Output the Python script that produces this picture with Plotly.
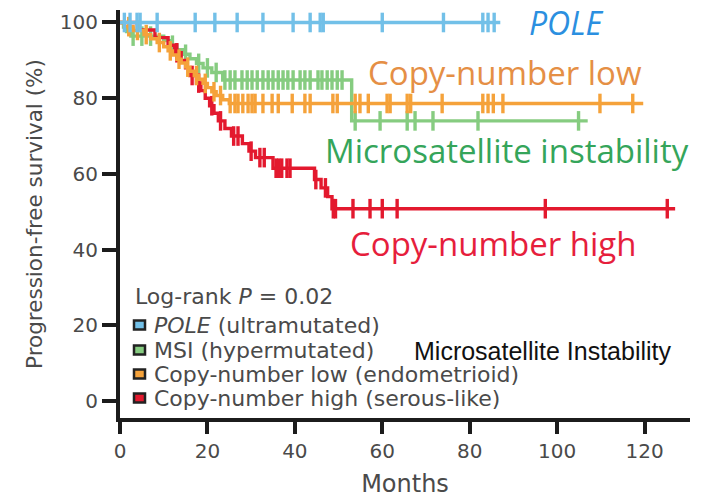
import numpy as np
import plotly.graph_objects as go

# ---------------- data ----------------
# Kaplan-Meier step points (months, survival %) and censor times per group
pole_t = [0]
pole_s = [100]
pole_end = 87
pole_cens = [1, 2.3, 3.9, 4.6, 8.5, 17.2, 21.7, 26.8, 32.7, 39.6, 43.5, 45.8, 46.5,
             60, 74, 83, 84.2, 85.6]

msi_t = [0, 0.8, 1.5, 2.5, 10, 11.5, 13, 14.5, 16, 17.5, 19, 21, 23.5, 53]
msi_s = [100, 98.8, 97.6, 96.4, 95.2, 94.0, 92.8, 91.6, 90.4, 89.2, 88.0, 86.8, 84.8, 74.0]
msi_end = 107
msi_cens = [3, 5, 7, 12, 15, 18, 20, 22, 24, 25.2, 26.3, 27.9, 29.1, 30.2, 31.4, 32.7,
            33.9, 35, 36.2, 37.3, 38.4, 39.6, 41.2, 42.3, 43.5, 45.3, 46.2, 47.4, 48.5,
            49.7, 50.8, 53.8, 59.5, 65.7, 67.5, 71.6, 81.9, 104.9]

cnl_t = [0, 1, 3, 5.5, 7, 8.5, 10, 11, 12, 13, 14, 15, 16, 17, 18, 19, 20, 21, 22, 23.5, 25]
cnl_s = [100, 98.9, 97.9, 96.8, 95.7, 94.7, 93.6, 92.5, 91.4, 90.3, 89.3, 88.2, 87.1,
         86.0, 85.0, 83.9, 82.8, 81.7, 80.7, 79.6, 78.6]
cnl_end = 119.7
cnl_cens = [2, 4, 6, 9, 11.5, 13.5, 15.5, 17.5, 19.5, 21.5, 23, 25.2, 26.3, 27, 28.1,
            29.3, 30.2, 30.9, 32.7, 34.8, 36.2, 39.4, 42.3, 43.5, 48.7, 49.7, 53.8, 54.9,
            56.8, 61.1, 61.8, 65.7, 66.5, 73.7, 83, 84.2, 85.4, 87.6, 109.8, 117.3]

cnh_t = [0, 4, 8, 11, 12.5, 14, 15, 16, 17.5, 18.5, 19.5, 20.5, 21.5, 22.5, 24, 25.5,
         28, 29.5, 31, 35, 44.5, 46, 47.5, 48.5]
cnh_s = [100, 98, 96, 94, 92, 90, 88, 86, 84, 82, 80, 78, 76, 74, 72, 70, 68, 66, 64.3,
         61.5, 58.5, 56.3, 54.0, 50.8]
cnh_end = 127
cnh_cens = [13, 16.5, 18, 21, 23, 26, 27, 30, 32, 33, 35.7, 36.3, 37, 38.2, 38.9, 44.8,
            47, 48.8, 49.3, 53.3, 57.2, 60, 63.4, 97.3, 125.2]

group_names = ["POLE (ultramutated)", "MSI (hypermutated)",
               "Copy-number low (endometrioid)", "Copy-number high (serous-like)"]
x_ticks = [0, 20, 40, 60, 80, 100, 120]
y_ticks = [0, 20, 40, 60, 80, 100]

# ---------------- styling ----------------
C_BLUE = "#72c0e8"
C_GREEN = "#86cc80"
C_ORANGE = "#f5a23a"
C_RED = "#e3192e"
AX = "#1c1c1c"
TXT = "#4a4a4a"

W, H = 701, 498
ML, MR, MT, MB = 120, 11, 10, 80
PW, PH = W - ML - MR, H - MT - MB


def px(x):
    return (x - ML) / PW


def py(y):
    return (H - MB - y) / PH


def step_at(t, s, q):
    idx = np.searchsorted(np.asarray(t, float), np.asarray(q, float), side="right") - 1
    return np.asarray(s, float)[idx]


fig = go.Figure()

groups = [
    (msi_t, msi_s, msi_end, msi_cens, C_GREEN, group_names[1]),
    (cnh_t, cnh_s, cnh_end, cnh_cens, C_RED, group_names[3]),
    (cnl_t, cnl_s, cnl_end, cnl_cens, C_ORANGE, group_names[2]),
    (pole_t, pole_s, pole_end, pole_cens, C_BLUE, group_names[0]),
]

for t, s, end, cens, col, name in groups:
    fig.add_trace(go.Scatter(
        x=list(t) + [end], y=list(s) + [s[-1]], mode="lines",
        line=dict(color=col, width=3.4, shape="hv"), name=name, showlegend=False,
        hoverinfo="skip"))
    fig.add_trace(go.Scatter(
        x=cens, y=step_at(t, s, cens), mode="markers",
        marker=dict(symbol="line-ns", size=14, line=dict(width=3.4, color=col)),
        name=name + " censored", showlegend=False, hoverinfo="skip"))

# group labels on the plot
lab_font = "Open Sans"
labels = [
    ("<i>POLE</i>", 566, 22, "#2b8fe0", 32),
    ("Copy-number low", 505, 72, "#e58f45", 33),
    ("Microsatellite instability", 507, 150, "#35a55a", 33),
    ("Copy-number high", 493, 243, "#e61e3c", 33),
]
for txt, x, y, col, sz in labels:
    fig.add_annotation(x=px(x), y=py(y), xref="paper", yref="paper", text=txt,
                       showarrow=False, xanchor="center", yanchor="middle",
                       font=dict(family=lab_font, size=sz, color=col))

# custom legend
leg_font = dict(family="DejaVu Sans", size=22, color=TXT)
fig.add_annotation(x=px(133), y=py(296), xref="paper", yref="paper",
                   text="Log-rank <i>P</i> = 0.02", showarrow=False,
                   xanchor="left", yanchor="middle", font=leg_font)
rows_y = [325, 350, 374, 398]
sq_cols = [C_BLUE, C_GREEN, C_ORANGE, C_RED]
leg_texts = ["<i>POLE</i> (ultramutated)", group_names[1], group_names[2], group_names[3]]
for ry, col, txt in zip(rows_y, sq_cols, leg_texts):
    fig.add_shape(type="rect", xref="paper", yref="paper",
                  x0=px(134), x1=px(145), y0=py(ry + 4.5), y1=py(ry - 4.5),
                  fillcolor=col, line=dict(color="#222222", width=2.5))
    fig.add_annotation(x=px(152), y=py(ry), xref="paper", yref="paper", text=txt,
                       showarrow=False, xanchor="left", yanchor="middle", font=leg_font)
fig.add_annotation(x=px(412), y=py(351), xref="paper", yref="paper",
                   text="Microsatellite Instability", showarrow=False,
                   xanchor="left", yanchor="middle",
                   font=dict(family="Liberation Sans", size=25, color="#111111"))

axis_common = dict(showline=True, linewidth=4, linecolor=AX, ticks="outside",
                   tickwidth=3.5, tickcolor=AX, showgrid=False, zeroline=False,
                   automargin=False,
                   tickfont=dict(family="DejaVu Sans", size=20, color=TXT))

fig.update_xaxes(range=[0, 130.4], tickvals=x_ticks, ticklen=12,
                 title=dict(text="Months", font=dict(family="DejaVu Sans", size=24, color=TXT),
                            standoff=14),
                 **axis_common)
fig.update_yaxes(range=[-4.5, 103.3], tickvals=y_ticks, ticklen=14,
                 title=dict(text="Progression-free survival (%)",
                            font=dict(family="DejaVu Sans", size=21.5, color=TXT), standoff=12),
                 **axis_common)

fig.update_layout(width=W, height=H, margin=dict(l=ML, r=MR, t=MT, b=MB),
                  plot_bgcolor="white", paper_bgcolor="white", showlegend=False)

fig.write_html("out.html")
